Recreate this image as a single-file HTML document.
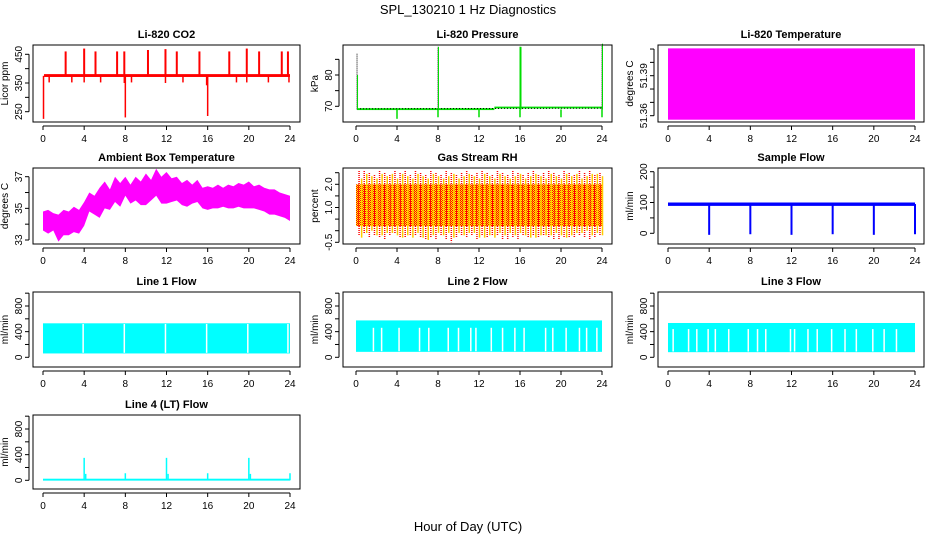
<!DOCTYPE html>
<html><head><meta charset="utf-8"><style>
body{margin:0;background:#fff}
svg{font-family:"Liberation Sans",sans-serif}
</style></head><body>
<svg id="s" width="936" height="540" viewBox="0 0 936 540">
<text x="468" y="14" text-anchor="middle" font-size="13">SPL_130210  1 Hz Diagnostics</text>
<text x="468" y="531" text-anchor="middle" font-size="13">Hour of Day (UTC)</text>
</svg>
<script>
// ---- data ----
const xTicks=[0,4,8,12,16,20,24];
const co2Hours=[2.2,4.0,5.1,7.2,7.9,10.2,11.9,13.0,15.2,18.1,19.8,21.0,23.2,23.8];
const co2Peaks=[460,470,460,460,460,465,468,460,460,460,470,460,460,460];
const co2DipHours=[0.05,8.0,16.0,0.6,2.8,4.0,5.6,7.9,8.6,11.9,13.6,15.9,18.8,19.8,21.9,23.9];
const co2Dips=[225,230,235,352,352,352,352,350,352,350,352,342,352,352,352,352];
const presDropHours=[4,8,12,16,20,24];
const presDrops=[66,66.5,66.5,66.5,66.5,66.5];
const presSpikeHours=[0.1,8.0,16.0,24.0];
const presSpikes=[87,89,89,90];
const ambHours=[0,0.5,1,1.5,2,2.5,3,3.5,4,4.5,5,5.5,6,6.5,7,7.5,8,8.5,9,9.5,10,10.5,11,11.5,12,12.5,13,13.5,14,14.5,15,15.5,16,16.5,17,17.5,18,18.5,19,19.5,20,20.5,21,21.5,22,22.5,23,23.5,24];
const ambMin=[33.6,33.4,33.6,32.9,33.3,33.3,33.5,33.4,33.9,34.8,34.6,34.4,35.0,34.9,35.4,35.1,35.8,35.3,35.5,35.2,35.2,35.5,35.8,35.3,35.3,35.4,35.5,35.2,35.1,35.3,35.4,35.0,34.9,35.0,35.0,35.1,35.0,35.0,35.1,35.0,35.0,35.0,34.9,34.8,34.6,34.6,34.5,34.4,34.2];
const ambMax=[34.8,34.9,34.7,34.6,34.9,34.8,35.1,34.9,35.4,36.0,35.8,36.3,36.7,36.2,37.0,36.6,37.0,36.5,37.0,36.7,37.2,36.8,37.5,37.0,37.3,36.9,37.0,36.6,36.8,36.5,36.8,36.3,36.4,36.3,36.5,36.3,36.5,36.4,36.6,36.5,36.7,36.4,36.5,36.3,36.2,36.2,36.0,35.9,35.8];
const rhHours=[0.3,0.8,1.3,1.8,2.3,2.8,3.3,3.8,4.3,4.8,5.3,5.8,6.3,6.8,7.3,7.8,8.3,8.8,9.3,9.8,10.3,10.8,11.3,11.8,12.3,12.8,13.3,13.8,14.3,14.8,15.3,15.8,16.3,16.8,17.3,17.8,18.3,18.8,19.3,19.8,20.3,20.8,21.3,21.8,22.3,22.8,23.3,23.8];
const rhHigh=[2.6,2.6,2.5,2.4,2.6,2.5,2.4,2.6,2.5,2.6,2.4,2.6,2.5,2.4,2.6,2.5,2.4,2.6,2.5,2.4,2.5,2.6,2.4,2.5,2.6,2.5,2.4,2.6,2.5,2.4,2.6,2.5,2.4,2.5,2.6,2.4,2.5,2.6,2.5,2.4,2.6,2.5,2.4,2.6,2.5,2.6,2.4,2.5];
const rhLow=[-0.2,-0.1,-0.3,-0.2,-0.3,-0.4,-0.2,-0.1,-0.3,-0.3,-0.2,-0.2,-0.3,-0.4,-0.3,-0.4,-0.2,-0.4,-0.5,-0.3,-0.2,-0.3,-0.2,-0.4,-0.2,-0.3,-0.2,-0.2,-0.4,-0.4,-0.3,-0.4,-0.2,-0.3,-0.2,-0.3,-0.2,-0.3,-0.4,-0.4,-0.3,-0.3,-0.3,-0.2,-0.3,-0.4,-0.3,-0.2];
const sfDropHours=[4,8,12,16,20,24];
const sfDrops=[-5,-3,-5,-3,-5,-3];
const l1GapHours=[3.9,7.9,11.9,15.9,19.9,23.8];
const l2GapHours=[1.7,2.5,4.2,6.2,7.1,9.0,10.0,11.2,11.7,13.2,14.3,15.5,16.4,18.5,19.2,20.5,21.8,22.5,23.5];
const l3GapHours=[0.5,2.0,2.8,3.9,4.6,5.9,7.8,8.7,9.5,11.9,12.3,13.6,14.5,15.9,17.2,18.3,19.9,21.0,22.2];
const l4SpikeHours=[4.0,4.15,8.0,12.0,12.15,16.0,20.0,20.15,24.0];
const l4Spikes=[350,100,110,350,100,110,350,100,110];
// ---- helpers ----
const S=document.getElementById('s');const NS='http://www.w3.org/2000/svg';
function mk(t,a,p){const e=document.createElementNS(NS,t);for(const k in a)e.setAttribute(k,a[k]);(p||S).appendChild(e);return e;}
function panel(name,title,box,xr,yv,ticks,labels,ylab){
 const g=mk('g',{});
 
 
 const X=h=>xr[0]+(xr[1]-xr[0])*h/24;
 const Y=v=>yv[1]+(v-yv[0])*(yv[3]-yv[1])/(yv[2]-yv[0]);
 const cx=(box[0]+box[1])/2;
 const t=mk('text',{x:cx,y:box[2]-7,'text-anchor':'middle','font-size':'11','font-weight':'bold'},g);t.textContent=title;
 
 
 const plot=mk('g',{},g);
 const fr=mk('rect',{x:box[0],y:box[2],width:box[1]-box[0],height:box[3]-box[2],fill:'none',stroke:'#000','stroke-width':1},g);
 
 
 const ax=mk('g',{},g);
 
 
 mk('line',{x1:X(0),x2:X(24),y1:box[3]+4,y2:box[3]+4,stroke:'#000'},ax);
 xTicks.forEach(h=>{mk('line',{x1:X(h),x2:X(h),y1:box[3]+4,y2:box[3]+8,stroke:'#000'},ax);
  const l=mk('text',{x:X(h),y:box[3]+20,'text-anchor':'middle','font-size':'10'},ax);l.textContent=h;});
 const ay=mk('g',{},g);
 
 
 const xa=box[0]-4;
 mk('line',{x1:xa,x2:xa,y1:Y(ticks[0]),y2:Y(ticks[ticks.length-1]),stroke:'#000'},ay);
 ticks.forEach(v=>mk('line',{x1:xa,x2:xa-4,y1:Y(v),y2:Y(v),stroke:'#000'},ay));
 labels.forEach(v=>{const n=parseFloat(v);const l=mk('text',{x:xa-7,y:Y(n),'text-anchor':'middle','font-size':'10',transform:`rotate(-90 ${xa-7} ${Y(n)})`},ay);l.textContent=v;});
 const yl=mk('text',{x:box[0]-25,y:(box[2]+box[3])/2,'text-anchor':'middle','font-size':'10',transform:`rotate(-90 ${box[0]-25} ${(box[2]+box[3])/2})`},g);yl.textContent=ylab;
 
 
 return {X,Y,plot};
}
function vline(p,h,v1,v2,c,w,extra){const e=mk('line',Object.assign({x1:p.X(h),x2:p.X(h),y1:p.Y(v1),y2:p.Y(v2),stroke:c,'stroke-width':w||1},extra||{}),p.plot);return e;}
function band(p,h1,h2,v1,v2,c){return mk('rect',{x:p.X(h1),y:p.Y(v2),width:p.X(h2)-p.X(h1),height:p.Y(v1)-p.Y(v2),fill:c},p.plot);}
// CO2
let p=panel('co2','Li-820 CO2',[33,300,45,122],[43,290],[250,111.7,450,54.3],[250,300,350,400,450],['250','350','450'],'Licor ppm');
band(p,0.1,24,371,381,'#f00');
co2Hours.forEach((h,i)=>{const e=vline(p,h,375,co2Peaks[i],'#f00',2);});
co2DipHours.forEach((h,i)=>{const e=vline(p,h,375,co2Dips[i],'#f00',1.5);});
// Pressure
p=panel('pressure','Li-820 Pressure',[343,612,45,122],[356,602],[70,106.3,80,75],[70,75,80,85],['70','80'],'kPa');
band(p,0.1,13.5,68.8,69.4,'#0d0');band(p,13.5,24,69.3,69.9,'#0d0');
mk('line',{x1:p.X(0.1),x2:p.X(24),y1:p.Y(69.2),y2:p.Y(69.4),stroke:'#000','stroke-dasharray':'1 2'},p.plot);
presSpikeHours.forEach((h,i)=>{const e=vline(p,h,69,presSpikes[i],'#000',1,{'stroke-dasharray':'1 1'});vline(p,h+0.05,69,i==0?80:presSpikes[i],'#0d0',i==2?2:1);});
presDropHours.forEach((h,i)=>{const e=vline(p,h,69,presDrops[i],'#0d0',1.5);});
// Li temp
p=panel('li-temp','Li-820 Temperature',[658,924,45,122],[668,915],[51.36,115.7,51.39,75.7],[51.36,51.37,51.38,51.39,51.40,51.41],['51.36','51.39'],'degrees C');
const lt=band(p,0,24,51.357,51.4105,'#f0f');
// Ambient
p=panel('ambient','Ambient Box Temperature',[33,300,168,244],[43,290],[33,240,37,176.7],[33,34,35,36,37],['33','35','37'],'degrees C');
let pts=ambHours.map((h,i)=>p.X(h)+','+p.Y(ambMax[i])).concat(ambHours.map((h,i)=>p.X(h)+','+p.Y(ambMin[i])).reverse());
const am=mk('polygon',{points:pts.join(' '),fill:'#f0f'},p.plot);
// RH
p=panel('rh','Gas Stream RH',[343,612,168,244],[356,602],[-0.5,242.3,2.0,184.3],[-0.5,0,0.5,1,1.5,2,2.5],['-0.5','1.0','2.0'],'percent');
mk('defs',{}).innerHTML='<pattern id="rp" width="2" height="2" patternUnits="userSpaceOnUse"><rect width="2" height="2" fill="#ff0"/><rect width="1" height="1" fill="#f00"/><rect x="1" y="1" width="1" height="1" fill="#f00"/></pattern>';
const rb=band(p,0,24,0.2,2.0,'url(#rp)');
rhHours.forEach((h,i)=>{vline(p,h,0.2,rhHigh[i],'#f00',1.5,{'stroke-dasharray':'1 1'});vline(p,h+0.25,0.2,rhHigh[(i+3)%48]-0.15,'#fc0',1.5);vline(p,h,0.2,rhLow[i],'#f00',1.5,{'stroke-dasharray':'1 1'});vline(p,h+0.25,0.2,rhLow[(i+5)%48]+0.1,'#fc0',1.5);});
// Sample flow
p=panel('sample-flow','Sample Flow',[658,924,168,244],[668,915],[0,233.3,200,171.7],[0,50,100,150,200],['0','100','200'],'ml/min');
band(p,0,24,89,100,'#00f');
sfDropHours.forEach((h,i)=>{const e=vline(p,h,95,sfDrops[i],'#00f',2);});
// Line flows
function lineFlow(name,title,box,xr,yv,lo,hi,gaps,gapLo,gapHi){
 const q=panel(name,title,box,xr,yv,[0,200,400,600,800,1000],['0','400','800'],'ml/min');
 const b=band(q,0,24,lo,hi,'#0ff');
 gaps.forEach(h=>{const e=vline(q,h,gapLo,gapHi,'#fff',1.5);});
 return q;
}
lineFlow('line1-flow','Line 1 Flow',[33,300,292,367],[43,290],[0,357.3,800,306],60,530,l1GapHours,70,520);
lineFlow('line2-flow','Line 2 Flow',[343,612,292,367],[356,602],[0,357.3,800,306],85,575,l2GapHours,95,460);
lineFlow('line3-flow','Line 3 Flow',[658,924,292,367],[668,915],[0,357.3,800,306],80,535,l3GapHours,90,440);
p=panel('line4-flow','Line 4 (LT) Flow',[33,300,415,489],[43,290],[0,480.3,800,429],[0,200,400,600,800,1000],['0','400','800'],'ml/min');
band(p,0,24,-5,25,'#0ff');
l4SpikeHours.forEach((h,i)=>{const e=vline(p,h,0,l4Spikes[i],'#0ff',1.5);});
</script>
</body></html>
